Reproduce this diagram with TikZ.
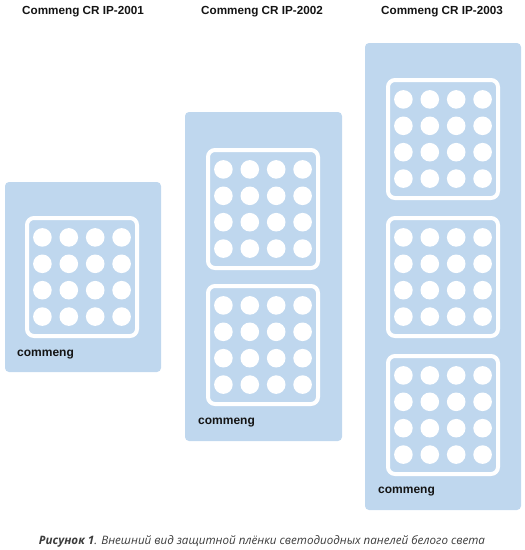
\documentclass[tikz,border=0pt]{standalone}
\usepackage{fontspec}
\setmainfont{Liberation Sans}
\newfontfamily\capfont{Open Sans}
\definecolor{panelblue}{RGB}{191,215,238}
\definecolor{inkdark}{RGB}{20,20,20}
\definecolor{capgrey}{RGB}{60,60,60}
\tikzset{
  panelbox/.style={fill=panelblue,draw=none,rounded corners=4pt},
  titletext/.style={font=\fontsize{11.7}{13}\selectfont\bfseries,text=inkdark,inner sep=0pt},
  brandtext/.style={font=\fontsize{12}{14}\selectfont\bfseries,text=inkdark,inner sep=0pt,anchor=west},
  ledframe/.pic={
    \draw[white,line width=4pt,rounded corners=7pt] (2,2) rectangle (112,120);
    \foreach \i in {0,1,2,3}{
      \foreach \j in {0,1,2,3}{
        \fill[white] ({57+(\i-1.5)*26.4},{61+(\j-1.5)*26.4}) circle (9.3);
      }
    }
  }
}
\begin{document}
\begin{tikzpicture}[x=1pt,y=-1pt]
\useasboundingbox (0,0) rectangle (525,550);
% panels
\path[panelbox] (5,182) rectangle (161,372);
\path[panelbox] (185,112) rectangle (342,441);
\path[panelbox] (365,43) rectangle (521,510);
% frames
\pic at (25,216) {ledframe};
\pic at (206,148) {ledframe};
\pic at (206,284) {ledframe};
\pic at (386,78) {ledframe};
\pic at (386,216) {ledframe};
\pic at (386,354) {ledframe};
% titles
\node[titletext] (t1) at (83,12) {Commeng CR IP-2001};
\node[titletext] (t2) at (262,12) {Commeng CR IP-2002};
\node[titletext] (t3) at (442,12) {Commeng CR IP-2003};
% brand labels
\node[brandtext] (b1) at (17,355) {commeng};
\node[brandtext] (b2) at (198,423) {commeng};
\node[brandtext] (b3) at (378,492) {commeng};
% caption
\node[font=\capfont\fontsize{11.6}{13}\selectfont,text=capgrey,inner sep=0pt] (cap) at (262,541)
  {\textbf{\textit{Рисунок 1}}\textit{. Внешний вид защитной плёнки светодиодных панелей белого света}};
\end{tikzpicture}
\end{document}
